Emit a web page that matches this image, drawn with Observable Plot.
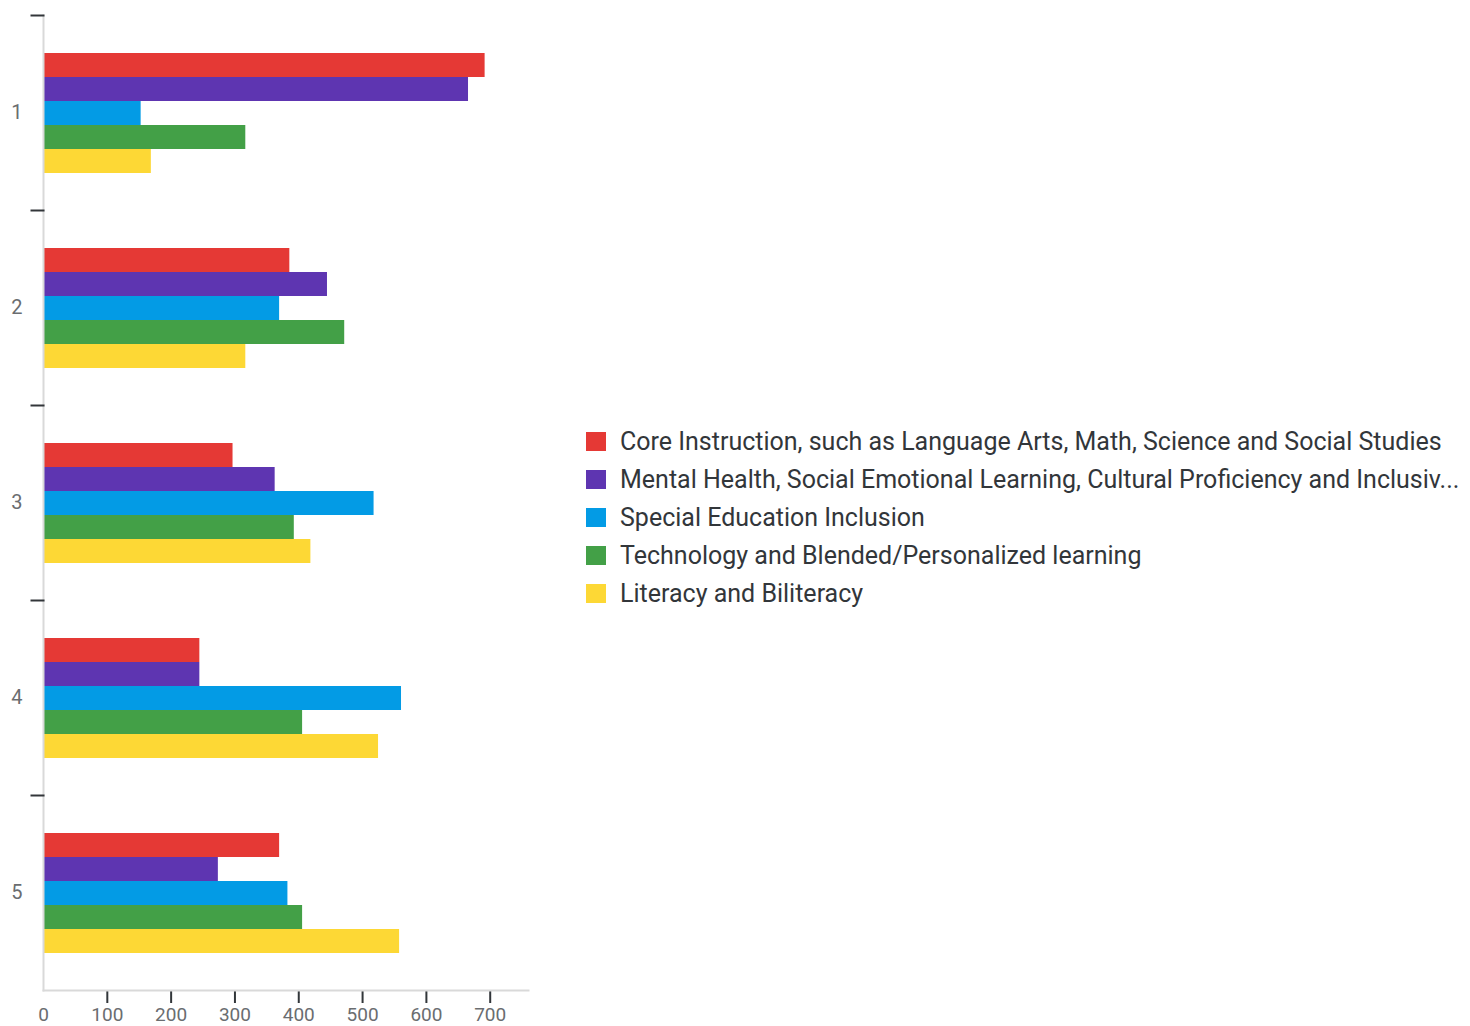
<!DOCTYPE html>
<html>
<head>
<meta charset="utf-8">
<script src="https://cdn.jsdelivr.net/npm/d3@7"></script>
<script src="https://cdn.jsdelivr.net/npm/@observablehq/plot@0.6"></script>
<style>
  html, body { margin: 0; padding: 0; background: #fff; }
  body { width: 1470px; height: 1026px; position: relative; overflow: hidden; font-family: Roboto, "Noto Sans", sans-serif; }
  #chart { position: absolute; left: 0; top: 0; }
  #legend { position: absolute; left: 586px; top: 422px; }
  .row { display: flex; align-items: center; height: 38px; font-size: 25px; color: #32363a; white-space: nowrap; }
  .sw { width: 20px; height: 19px; margin-right: 14px; flex: none; }
</style>
</head>
<body>
<div id="chart"></div>
<div id="legend"></div>
<script>
const groups = ["1", "2", "3", "4", "5"];
const series = [
  "Core Instruction, such as Language Arts, Math, Science and Social Studies",
  "Mental Health, Social Emotional Learning, Cultural Proficiency and Inclusiv...",
  "Special Education Inclusion",
  "Technology and Blended/Personalized learning",
  "Literacy and Biliteracy"
];
const colors = ["#e53935", "#5e35b1", "#039be5", "#43a047", "#fdd835"];
const coreInstruction = [692, 386, 297, 245, 370];
const mentalHealth = [666, 445, 363, 245, 274];
const specialEducation = [153, 370, 518, 561, 383];
const technology = [317, 472, 393, 406, 406];
const literacy = [169, 317, 419, 525, 558];
const xTickValues = [0, 100, 200, 300, 400, 500, 600, 700];
const xTickMarks = [100, 200, 300, 400, 500, 600, 700];

const seriesValues = [coreInstruction, mentalHealth, specialEducation, technology, literacy];
const data = [];
groups.forEach((g, i) => {
  series.forEach((s, j) => {
    data.push({group: g, series: s, value: seriesValues[j][i]});
  });
});

const plot = Plot.plot({
  width: 540,
  height: 1026,
  marginLeft: 43,
  marginRight: 12,
  marginTop: 14,
  marginBottom: 36,
  style: {fontFamily: "Roboto, 'Noto Sans', sans-serif", fontSize: "19px", background: "white", overflow: "visible"},
  x: {domain: [0, 760]},
  y: {domain: series, axis: null, paddingInner: 0, paddingOuter: 1.5},
  fy: {domain: groups, padding: 0},
  color: {domain: series, range: colors},
  marks: [
    Plot.barX(data, {x: "value", y: "series", fy: "group", fill: "series"}),
    Plot.axisX(xTickMarks, {tickSize: 13, stroke: "#32363a", strokeWidth: 2, tickFormat: () => "", label: null}),
    Plot.axisX(xTickValues, {tickSize: 0, tickPadding: 17, fill: "#6a6d70", fontSize: 19, label: null}),
    Plot.frame({anchor: "left", stroke: "#d9d9d9", strokeWidth: 2}),
    Plot.frame({anchor: "top", stroke: "#32363a", strokeWidth: 2, insetLeft: -12, insetRight: 485}),
    Plot.frame({anchor: "bottom", facetAnchor: "bottom", stroke: "#d9d9d9", strokeWidth: 2}),
    Plot.axisFy({anchor: "left", tickSize: 0, tickPadding: 21, fill: "#6a6d70", fontSize: 20, label: null})
  ]
});
document.getElementById("chart").appendChild(plot);

const legend = document.getElementById("legend");
series.forEach((s, j) => {
  const row = document.createElement("div");
  row.className = "row";
  const sw = document.createElement("span");
  sw.className = "sw";
  sw.style.background = colors[j];
  const t = document.createElement("span");
  t.textContent = s;
  row.appendChild(sw);
  row.appendChild(t);
  legend.appendChild(row);
});
</script>
</body>
</html>
